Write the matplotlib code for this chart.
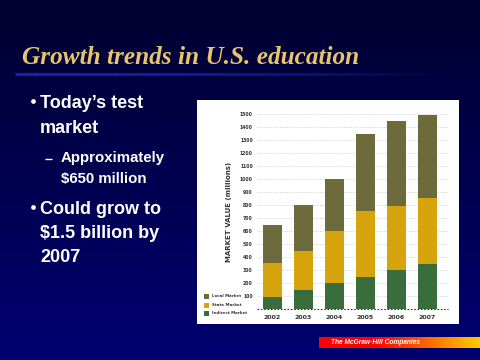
import numpy as np
import matplotlib
matplotlib.use("Agg")
import matplotlib.pyplot as plt
from matplotlib.patches import Rectangle

years = ["2002", "2003", "2004", "2005", "2006", "2007"]
indirect = [95, 147, 198, 250, 300, 350]
state = [260, 303, 402, 505, 497, 505]
local = [295, 350, 400, 595, 650, 640]
yticks = [100, 200, 300, 400, 500, 600, 700, 800, 900, 1000, 1100, 1200, 1300, 1400, 1500]
legend_labels = ["Local Market", "State Market", "Indirect Market"]
bullet1 = ["Today\u2019s test", "market"]
bullet2 = ["Could grow to", "$1.5 billion by", "2007"]
sub_bullet = ["Approximately", "$650 million"]
title = "Growth trends in U.S. education"

C_LOCAL = "#6d6a3b"
C_STATE = "#d6a40c"
C_IND = "#3b6d3c"

W, H = 480, 360
fig = plt.figure(figsize=(4.8, 3.6), dpi=100)

def fx(x):
    return x / W

def fy(y):
    return 1 - y / H

# background gradient
bg = fig.add_axes([0, 0, 1, 1])
bg.set_axis_off()
t = np.linspace(0, 1, 256)[:, None]
top = np.array([0, 0, 0x30]) / 255
bot = np.array([0, 0, 0x70]) / 255
grad = top[None, None, :] * (1 - t[:, :, None]) + bot[None, None, :] * t[:, :, None]
grad = np.repeat(grad, 2, axis=1)
bg.imshow(grad, aspect="auto", extent=[0, 1, 0, 1], origin="upper")
bg.set_xlim(0, 1)
bg.set_ylim(0, 1)

# title underline glow
xs = np.linspace(fx(15), fx(445), 200)
for i in range(len(xs) - 1):
    a = max(0.0, 1 - (i / len(xs)) ** 1.5)
    bg.plot(xs[i:i + 2], [fy(74), fy(74)], color="#1a2fd0", lw=2.0, alpha=a * 0.9,
            solid_capstyle="butt")

bg.text(fx(22), fy(57), title, fontsize=18.2, fontweight="bold", fontstyle="italic",
        family="Liberation Serif", color="#e8c46e", va="center", ha="left")

# bullets
def line(xp, yp, s, size):
    bg.text(fx(xp), fy(yp), s, fontsize=size, fontweight="bold", color="white",
            va="center", ha="left", family="Liberation Sans")

bg.plot([fx(32.5)], [fy(101)], marker="o", ms=3.4, color="white", mec="none")
for i, s in enumerate(bullet1):
    line(40, 103 + 25 * i, s, 13)
bg.plot([fx(45), fx(52)], [fy(159), fy(159)], color="white", lw=1.0, solid_capstyle="butt")
for i, s in enumerate(sub_bullet):
    line(61, 158 + 21 * i, s, 10.8)
bg.plot([fx(32.5)], [fy(207)], marker="o", ms=3.4, color="white", mec="none")
for i, s in enumerate(bullet2):
    line(40, 209 + 24 * i, s, 13)

# footer gradient bar
fx0, fx1 = fx(319), fx(480)
fb = fig.add_axes([fx0, fy(348), fx1 - fx0, (348 - 337) / H])
fb.set_axis_off()
cols = np.linspace(0, 1, 256)
r = np.ones_like(cols)
g = np.clip((cols - 0.35) / 0.65, 0, 1) * 0.8
b = np.zeros_like(cols)
bar_img = np.stack([r, g, b], axis=-1)[None, :, :]
fb.imshow(bar_img, aspect="auto", extent=[0, 1, 0, 1])
fb.set_xlim(0, 1)
fb.set_ylim(0, 1)
fb.text(0.075, 0.5, "The McGraw\u00b7Hill Companies", fontsize=4.8, fontstyle="italic",
        fontweight="bold", color="white", va="center", ha="left", family="Liberation Sans")

# white chart panel
bg.add_patch(Rectangle((fx(197), fy(324)), fx(459) - fx(197), (324 - 100) / H,
                       facecolor="white", edgecolor="none", zorder=1))

# chart axes
ax = fig.add_axes([fx(257), fy(309), fx(448) - fx(257), (309 - 114.3) / H])
ax.set_facecolor("none")
x = np.arange(len(years))
bw = 0.64
ax.bar(x, indirect, bw, color=C_IND, zorder=3)
ax.bar(x, state, bw, bottom=indirect, color=C_STATE, zorder=3)
bottoms = np.array(indirect) + np.array(state)
ax.bar(x, local, bw, bottom=bottoms, color=C_LOCAL, zorder=3)
ax.set_xlim(-0.5, 5.66)
ax.set_ylim(0, 1500)
for v in yticks:
    ax.axhline(v, color="#bbbbbb", lw=0.5, ls=(0, (1, 1.5)), zorder=1)
ax.axhline(0, color="#333333", lw=0.8, ls=(0, (1.5, 1.5)), zorder=4, clip_on=False)
for s in ax.spines.values():
    s.set_visible(False)
ax.set_yticks(yticks)
ax.set_yticklabels([str(v) for v in yticks], fontsize=3.3, fontweight="bold", color="#333333")
ax.set_xticks(x)
ax.set_xticklabels(years, fontsize=4.5, fontweight="bold", color="#333333")
ax.tick_params(length=0, pad=3)
ax.tick_params(axis="x", pad=4)
ax.set_ylabel("MARKET VALUE (millions)", fontsize=5, fontweight="bold", color="#333333",
              labelpad=6)

# legend
leg_cols = [C_LOCAL, C_STATE, C_IND]
leg_y = [296, 305, 313]
for lab, c, yy in zip(legend_labels, leg_cols, leg_y):
    bg.add_patch(Rectangle((fx(204), fy(yy + 2.5)), 5 / W, 5 / H, facecolor=c,
                           edgecolor="none", zorder=3))
    bg.text(fx(212), fy(yy), lab, fontsize=2.9, fontweight="bold", color="#333333",
            va="center", ha="left", zorder=3)

fig.savefig("out.png", dpi=100)
